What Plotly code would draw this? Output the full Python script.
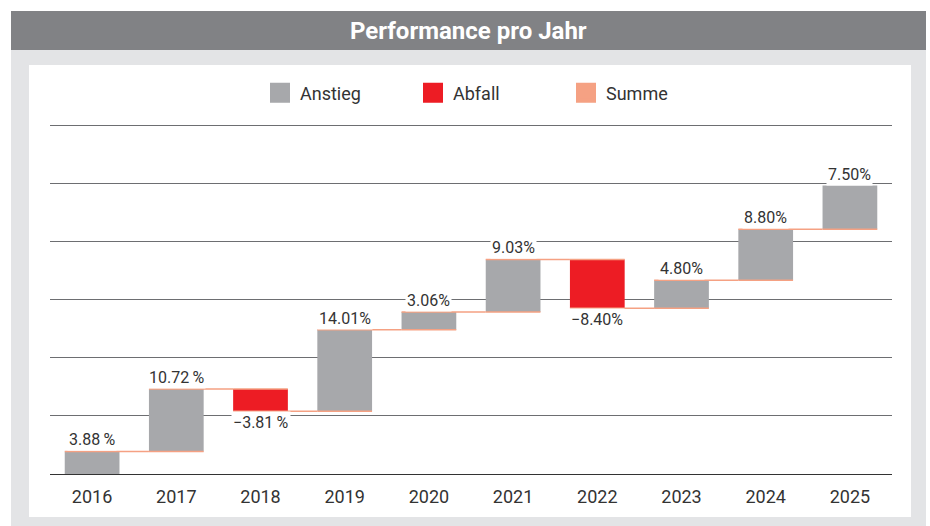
import plotly.graph_objects as go

# ---- data ----
years = ["2016", "2017", "2018", "2019", "2020", "2021", "2022", "2023", "2024", "2025"]
changes = [3.88, 10.72, -3.81, 14.01, 3.06, 9.03, -8.40, 4.80, 8.80, 7.50]
labels = ["3.88\u2009%", "10.72\u2009%", "\u22123.81\u2009%", "14.01%", "3.06%",
          "9.03%", "\u22128.40%", "4.80%", "8.80%", "7.50%"]
legend_names = ["Anstieg", "Abfall", "Summe"]
title_text = "Performance pro Jahr"

# ---- styles ----
GREY_BAR = "#a7a8ab"
RED = "#ed1c24"
SALMON = "#f5a183"
TITLE_BG = "#818285"
PANEL_BG = "#e3e4e6"
TEXT = "#333333"
GRID = "#6d6e71"
FONT = "Roboto"

W, H = 930, 526
L, R, T, B = 50, 38, 122, 52
PW, PH = W - L - R, H - T - B
YMAX = 60 * PH / 349.0


def px_x(p):
    return (p - L) / PW


def px_y(p):
    return (H - B - p) / PH


fig = go.Figure()

fig.add_trace(go.Waterfall(
    x=years,
    y=changes,
    measure=["relative"] * len(years),
    increasing=dict(marker=dict(color=GREY_BAR)),
    decreasing=dict(marker=dict(color=RED)),
    connector=dict(mode="spanning", line=dict(color=SALMON, width=1.5)),
    showlegend=False,
    hoverinfo="x+y",
))

# legend entries
for name, col in zip(legend_names, [GREY_BAR, RED, SALMON]):
    fig.add_trace(go.Scatter(
        x=[None], y=[None], mode="markers", name=name,
        marker=dict(symbol="square", size=16, color=col, line=dict(color=col, width=4)),
    ))

# value labels (white background so they interrupt gridlines)
annotations = []
cum = 0.0
for i, (ch, lab) in enumerate(zip(changes, labels)):
    end = cum + ch
    if ch >= 0:
        annotations.append(dict(x=i, y=end, xref="x", yref="y", text=lab, showarrow=False,
                                yanchor="bottom", yshift=0, bgcolor="white",
                                font=dict(size=16, color=TEXT, family=FONT)))
    else:
        annotations.append(dict(x=i, y=end, xref="x", yref="y", text=lab, showarrow=False,
                                yanchor="top", yshift=0, bgcolor="white",
                                font=dict(size=16, color=TEXT, family=FONT)))
    cum = end

annotations.append(dict(x=px_x(468.5), y=px_y(31), xref="paper", yref="paper",
                        text="<b>" + title_text + "</b>", showarrow=False,
                        xanchor="center", yanchor="middle",
                        font=dict(size=24, color="white", family=FONT)))

shapes = [
    dict(type="rect", xref="paper", yref="paper", layer="below",
         x0=px_x(11), x1=px_x(926), y0=px_y(50), y1=px_y(11),
         fillcolor=TITLE_BG, line=dict(width=0)),
    dict(type="rect", xref="paper", yref="paper", layer="below",
         x0=px_x(11), x1=px_x(926), y0=px_y(530), y1=px_y(50),
         fillcolor=PANEL_BG, line=dict(width=0)),
    dict(type="rect", xref="paper", yref="paper", layer="below",
         x0=px_x(29), x1=px_x(911), y0=px_y(517), y1=px_y(65),
         fillcolor="white", line=dict(width=0)),
]

fig.update_layout(
    width=W, height=H,
    margin=dict(l=L, r=R, t=T, b=B, pad=0),
    paper_bgcolor="white",
    plot_bgcolor="rgba(0,0,0,0)",
    font=dict(family=FONT, color=TEXT),
    waterfallgap=0.35,
    showlegend=True,
    legend=dict(orientation="h", x=px_x(260), y=px_y(93), xanchor="left", yanchor="middle",
                font=dict(size=18, color=TEXT, family=FONT), entrywidth=108,
                bgcolor="rgba(0,0,0,0)"),
    annotations=annotations,
    shapes=shapes,
    xaxis=dict(type="category", range=[-0.5, len(years) - 0.5], showgrid=False,
               showline=False, ticks="", tickfont=dict(size=18, color=TEXT),
               ticklabelstandoff=10),
    yaxis=dict(range=[0, YMAX], dtick=10, showgrid=True, gridcolor=GRID, gridwidth=1,
               zeroline=True, zerolinecolor="#333333", zerolinewidth=1,
               showticklabels=False, ticks="", showline=False),
)

fig.write_html("out.html", config={"displayModeBar": False},
               post_script="document.body.style.margin='0';document.body.style.overflow='hidden';")
